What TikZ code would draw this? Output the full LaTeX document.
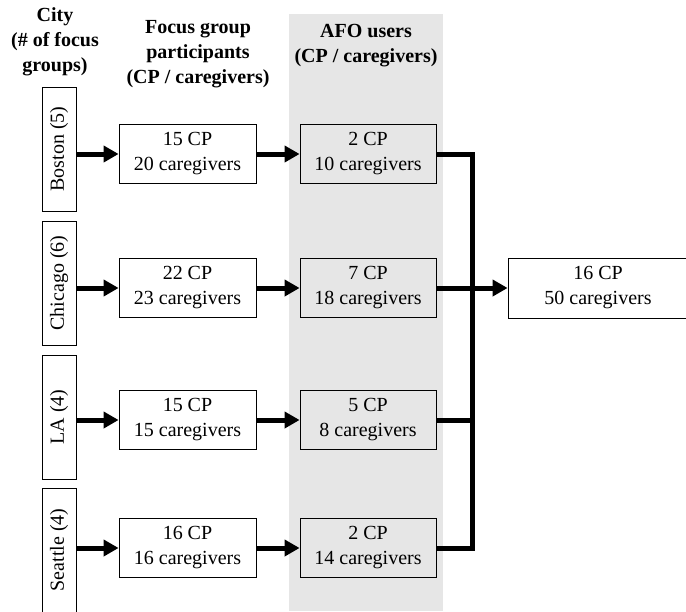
\documentclass[tikz,border=0pt]{standalone}
\usepackage{fontspec}
\IfFontExistsTF{LiberationSerif-Regular.ttf}
  {\setmainfont{LiberationSerif-Regular.ttf}[BoldFont=LiberationSerif-Bold.ttf]}
  {\setmainfont{Liberation Serif}}
\usepackage{tikz}
\usetikzlibrary{positioning, calc, arrows.meta}
\definecolor{bandgray}{HTML}{E6E6E6}

\begin{document}
\begin{tikzpicture}[
    x=1pt, y=-1pt,
    box/.style={draw, line width=0.8pt, minimum width=137pt, minimum height=59pt, inner sep=0pt, align=center, font=\fontsize{20}{25}\selectfont},
    citybox/.style={draw, line width=0.8pt, minimum width=124pt, minimum height=34pt, inner sep=0pt, rotate=90, font=\fontsize{20}{25}\selectfont},
    head/.style={align=center, inner sep=0pt, font=\fontsize{20}{25}\selectfont\bfseries},
    flow/.style={line width=5pt, -{Triangle[length=15pt, width=16pt]}},
    joint/.style={line width=5pt},
  ]
  \useasboundingbox (0,0) rectangle (686,611);
  % gray band behind AFO column
  \fill[bandgray] (289,14) rectangle (443,611);
  % headers
  \node[head] (hcity) at (55,42) {City\\(\# of focus\\groups)};
  \node[head] (hfocus) at (198,54) {Focus group\\participants\\(CP / caregivers)};
  \node[head] (hafo) at (366,46) {AFO users\\(CP / caregivers)};
  % rows
  \foreach \i/\c/\cy/\y/\fa/\fb/\aa/\ab in {
      1/Boston (5)/149/154/15/20/2/10,
      2/Chicago (6)/283/288/22/23/7/18,
      3/LA (4)/417/420/15/15/5/8,
      4/Seattle (4)/550/548/16/16/2/14} {
    \node[citybox] (city\i) at (59,\cy) {\c};
    \node[box] (fg\i) at (187.5,\y) {\fa\ CP\\\fb\ caregivers};
    \node[box, fill=bandgray, minimum width=136pt] (afo\i) at (368,\y) {\aa\ CP\\\ab\ caregivers};
    \draw[flow] (city\i.south |- fg\i.west) -- (fg\i.west);
    \draw[flow] (fg\i.east) -- (afo\i.west);
  }
  % total
  \node[box, minimum width=180pt, minimum height=60pt] (total) at (598,288) {16 CP\\50 caregivers};
  \coordinate (bus) at (472,0);
  \draw[joint] (afo1.east) -- (afo1.east -| bus) -- (afo4.east -| bus) -- (afo4.east);
  \draw[joint] (afo3.east) -- (afo3.east -| bus);
  \draw[flow] (afo2.east) -- (total.west);
\end{tikzpicture}
\end{document}
